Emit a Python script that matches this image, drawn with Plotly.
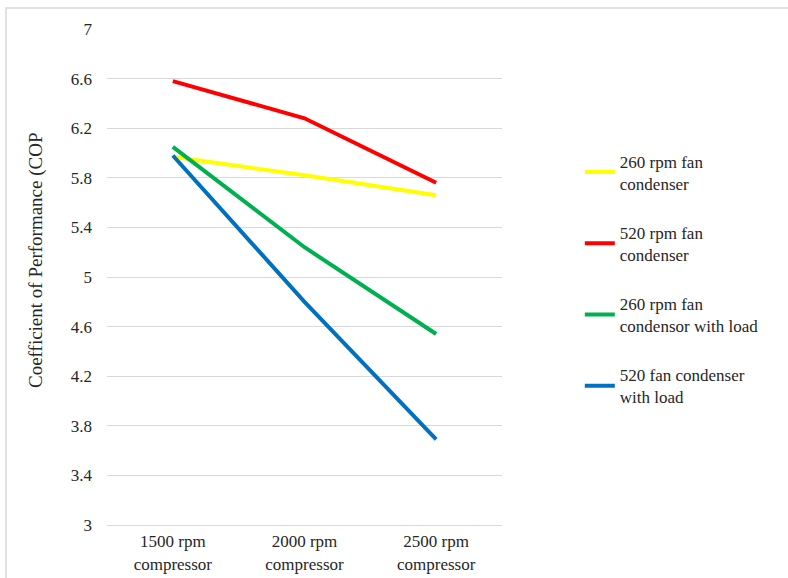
import plotly.graph_objects as go

categories = ["1500 rpm<br>compressor", "2000 rpm<br>compressor", "2500 rpm<br>compressor"]
series_names = ["260 rpm fan<br>condenser", "520 rpm fan<br>condenser",
                "260 rpm fan<br>condensor with load", "520 fan condenser<br>with load"]
yellow_260 = [5.97, 5.82, 5.66]
red_520 = [6.58, 6.28, 5.76]
green_260_load = [6.05, 5.24, 4.54]
blue_520_load = [5.98, 4.80, 3.69]
colors = ["#FFFF00", "#FF0000", "#00B050", "#0070C0"]
y_ticks = [3, 3.4, 3.8, 4.2, 4.6, 5, 5.4, 5.8, 6.2, 6.6, 7]
y_title = "Coefficient of Performance (COP"

fig = go.Figure()
for i, (name, vals) in enumerate(zip(series_names, [yellow_260, red_520, green_260_load, blue_520_load])):
    fig.add_trace(go.Scatter(x=categories, y=vals, mode="lines", name=name,
                             legendgroup=f"g{i}",
                             line=dict(color=colors[i], width=4)))

font_family = "Liberation Serif"
fig.update_layout(
    width=788, height=578,
    margin=dict(l=107, r=286, t=29, b=53, autoexpand=False),
    paper_bgcolor="white", plot_bgcolor="white",
    font=dict(family=font_family, size=17, color="#262626"),
    showlegend=True,
    legend=dict(x=1.197, y=0.496, xanchor="left", yanchor="middle",
                tracegroupgap=24, font=dict(size=17, color="#262626"),
                bgcolor="rgba(0,0,0,0)"),
    xaxis=dict(showgrid=False, showline=True, linecolor="#D9D9D9", linewidth=1,
               ticks="", tickfont=dict(size=17), automargin=False,
               range=[-0.5, 2.5], ticklabelstandoff=1),
    yaxis=dict(range=[3, 7], tickvals=y_ticks, ticktext=[f"{v:g}" for v in y_ticks],
               showgrid=True, gridcolor="#D9D9D9", gridwidth=1, zeroline=False,
               showline=False, ticks="", ticklen=0, tickfont=dict(size=17),
               automargin=False, ticklabelstandoff=14),
    annotations=[dict(text=y_title, xref="paper", yref="paper", x=-0.18, y=0.534,
                      textangle=-90, showarrow=False, font=dict(size=19, color="#262626"),
                      xanchor="center", yanchor="middle")],
    shapes=[dict(type="rect", xref="paper", yref="paper", x0=-0.2557, x1=1.75, y0=-0.2, y1=1.0423,
                 line=dict(color="#D9D9D9", width=1.5))],
)
fig.write_html("out.html", config={"displayModeBar": False},
               post_script="document.body.style.margin='0';")
